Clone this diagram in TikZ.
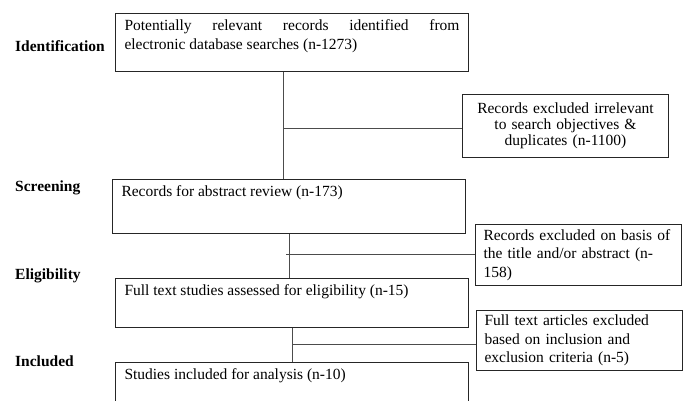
\documentclass[tikz,border=0pt]{standalone}
\usepackage{fontspec}
\setmainfont{Liberation Serif}
\usepackage{tikz}
\usetikzlibrary{positioning}

\begin{document}
\begin{tikzpicture}[
  x=1pt, y=-1pt,
  font=\fontsize{15.5pt}{18.5pt}\selectfont,
  stage/.style = {anchor=west, font=\fontsize{15.5pt}{18.5pt}\selectfont\bfseries,
                  text height=11pt, text depth=3pt, inner sep=0pt},
  mainbox/.style = {rectangle, draw=black!85, line width=1pt, align=justify,
                    text width=335pt, inner xsep=9pt, inner ysep=5pt, text height=12pt},
  exbox/.style = {rectangle, draw=black!85, line width=1pt, align=left,
                  text width=190pt, inner xsep=8pt, inner ysep=3pt},
  link/.style = {draw=black!70, line width=0.9pt}
]
  \useasboundingbox (0,0) rectangle (689,400);
  \clip (0,0) rectangle (689,400);

  % stage labels
  \node[stage] (lid)  at (15,47)  {Identification};
  \node[stage] (lscr) at (15,187) {Screening};
  \node[stage] (lelg) at (15,275) {Eligibility};
  \node[stage] (linc) at (15,362) {Included};

  % main column
  \node[mainbox, anchor=north west, text depth=36pt,
        font=\fontsize{15.5pt}{19pt}\selectfont] (id) at (115,13)
       {Potentially relevant records identified from\linebreak electronic database searches (n-1273)};
  \node[mainbox, below right=107pt and -3pt of id.south west, text depth=32pt] (scr)
       {Records for abstract review (n-173)};
  \node[mainbox, below right=44pt and 3pt of scr.south west, text depth=27pt] (elg)
       {Full text studies assessed for eligibility (n-15)};
  \node[mainbox, below right=34pt and 0pt of elg.south west, text depth=28pt] (inc)
       {Studies included for analysis (n-10)};

  % excluded records
  \node[exbox, below right=22pt and -7pt of id.south east, align=center, text width=190pt,
        minimum height=63pt, font=\fontsize{15.5pt}{16pt}\selectfont] (ex1)
       {Records excluded irrelevant\\to search objectives \&\\duplicates (n-1100)};
  \node[exbox, below right=-10pt and 9pt of scr.south east, minimum height=61pt] (ex2)
       {Records excluded on basis of\\the title and/or abstract (n-\\158)};
  \node[exbox, below right=-18pt and 7pt of elg.south east, minimum height=60pt] (ex3)
       {Full text articles excluded\\based on inclusion and\\exclusion criteria (n-5)};

  \draw[link] ([xshift=-8.5pt]id.south) -- ([xshift=-8.5pt]id.south |- scr.north);
  \draw[link] ([xshift=-8.5pt,yshift=-2.5pt]id.south |- ex1.west) -- ([yshift=-2.5pt]ex1.west);
  \draw[link] (scr.south) -- (scr.south |- elg.north);
  \draw[link] ([xshift=-3pt,yshift=1pt]scr.south |- ex2.west) -- ([yshift=1pt]ex2.west);
  \draw[link] (elg.south) -- (elg.south |- inc.north);
  \draw[link] ([yshift=-4pt]elg.south |- ex3.west) -- ([yshift=-4pt]ex3.west);
\end{tikzpicture}
\end{document}
